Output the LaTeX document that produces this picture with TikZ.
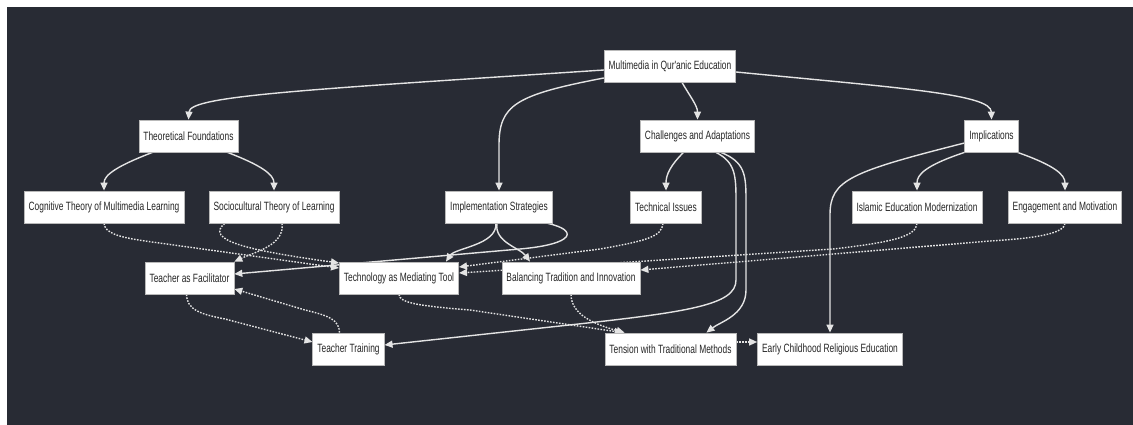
\documentclass[tikz,border=0pt]{standalone}
\usepackage{fontspec}
\newfontfamily\mmfont{Liberation Sans}[FakeStretch=0.7]
\usetikzlibrary{arrows.meta,calc,backgrounds}
\definecolor{canvas}{HTML}{282B34}
\definecolor{wire}{HTML}{E4E4E4}

\begin{document}
\begin{tikzpicture}[
    x=1pt, y=-1pt,
    box/.style={rectangle, draw=gray!55, line width=0.8pt, fill=white, minimum height=32pt, inner xsep=4.5pt, inner ysep=0pt, font=\mmfont\fontsize{12}{14}\selectfont, text=black!85},
    link/.style={-{Triangle[length=8pt,width=7pt]}, draw=wire, line width=1.4pt},
    dotlink/.style={link, dash pattern=on 1.6pt off 1.4pt}
]

% Canvas
\useasboundingbox (0,0) rectangle (1133,425);
\begin{scope}[on background layer]
\fill[white] (0,0) rectangle (1133,425);
\fill[canvas] (7,7) rectangle (1133,425);
\end{scope}

% Root
\node[box] (mm) at (670,66) {Multimedia in Qur'anic Education};

% Main branches
\node[box] (tf) at (188.5,136) {Theoretical Foundations};
\node[box] (ca) at (697.5,136) {Challenges and Adaptations};
\node[box] (imp) at (991.5,136) {Implications};

% Second level
\node[box] (cog) at (104,207) {Cognitive Theory of Multimedia Learning};
\node[box] (soc) at (274,207) {Sociocultural Theory of Learning};
\node[box] (is) at (499,207) {Implementation Strategies};
\node[box] (ti) at (666,207) {Technical Issues};
\node[box] (iem) at (917,207) {Islamic Education Modernization};
\node[box] (em) at (1065,207) {Engagement and Motivation};

% Third level
\node[box] (taf) at (189.5,278) {Teacher as Facilitator};
\node[box] (tmt) at (399,278) {Technology as Mediating Tool};
\node[box] (btn) at (571,278) {Balancing Tradition and Innovation};

% Bottom row
\node[box] (tt) at (348.5,349) {Teacher Training};
\node[box] (twt) at (670.5,349) {Tension with Traditional Methods};
\node[box] (ecre) at (830,349) {Early Childhood Religious Education};

\begin{scope}[on background layer]
% Solid links
\draw[link] ($(mm.west)+(0,4)$) .. controls (300,90) and (190,96) .. (tf.north);
\draw[link] ($(mm.west)+(0,12)$) .. controls (515,95) and (499,105) .. ($(is.north)+(0,-45)$) -- (is.north);
\draw[link] ($(mm.south)+(12,0)$) .. controls +(8,14) and +(0,-14) .. (ca.north);
\draw[link] ($(mm.east)+(0,6)$) .. controls (900,88) and (991,94) .. (imp.north);

\foreach \i/\j/\dx/\cx in {tf/cog/-36/-34, tf/soc/39/34, ca/ti/-14/-13, imp/iem/-27/-39, imp/em/26/37} {
    \draw[link] ($(\i.south)+(\dx,0)$) .. controls +(\cx,13) and +(0,-16) .. (\j.north);
}

\draw[link] ($(ca.south east)+(-39,0)$) .. controls (735,162) and (736,175) .. (736,200) -- (736,280)
    .. controls (736,305) and (690,312) .. (560,326) -- ($(tt.east)+(0,-4)$);
\draw[link] ($(ca.south east)+(-34,0)$) .. controls (745,162) and (746,175) .. (746,200) -- (746,290)
    .. controls (746,315) and (720,322) .. ($(twt.north)+(36,0)$);
\draw[link] ($(imp.west)+(0,7)$) .. controls (850,172) and (830,180) .. (830,215) -- (ecre.north);

\draw[link] ($(is.south)+(-3,0)$) .. controls (497,245) and (455,248) .. ($(tmt.north)+(47,0)$);
\draw[link] ($(is.south)+(-2,0)$) .. controls (494,242) and (520,248) .. ($(btn.north)+(-41,0)$);
\draw[link] ($(is.south east)+(-5,0)$) .. controls (578,230) and (576,244) .. (520,249) -- ($(taf.east)+(0,-4)$);

% Dotted links
\draw[dotlink] (cog.south) .. controls (105,233) and (118,237) .. (145,241) -- ($(tmt.west)+(0,-10)$);
\draw[dotlink] ($(soc.south west)+(16,0)$) .. controls (205,240) and (245,250) .. ($(tmt.west)+(0,-15)$);
\draw[dotlink] ($(soc.south)+(8,0)$) .. controls (285,245) and (255,252) .. (taf.north east);
\draw[dotlink] ($(ti.south)+(-3,0)$) .. controls (662,237) and (645,241) .. (600,249) -- ($(tmt.east)+(0,-11)$);
\draw[dotlink] (iem.south) .. controls (916,236) and (895,242) .. (833,249) -- ($(tmt.east)+(0,-5)$);
\draw[dotlink] (em.south) .. controls (1064,233) and (1040,238) .. (990,241) -- ($(btn.east)+(0,-8)$);
\draw[dotlink] (tmt.south) .. controls (399,303) and (420,306) .. (470,310) -- ($(twt.north west)+(18,0)$);
\draw[dotlink] (btn.south) .. controls (571,310) and (585,322) .. ($(twt.north west)+(20,0)$);
\draw[dotlink] ($(taf.south)+(-3,0)$) .. controls (187,310) and (200,314) .. (225,319) -- ($(tt.west)+(0,-7)$);
\draw[dotlink] ($(tt.north)+(-9,0)$) .. controls (339,320) and (330,316) .. (305,310) -- ($(taf.east)+(0,11)$);
\draw[dotlink] ($(twt.east)+(0,-7)$) -- ($(ecre.west)+(0,-7)$);
\end{scope}

\end{tikzpicture}
\end{document}
